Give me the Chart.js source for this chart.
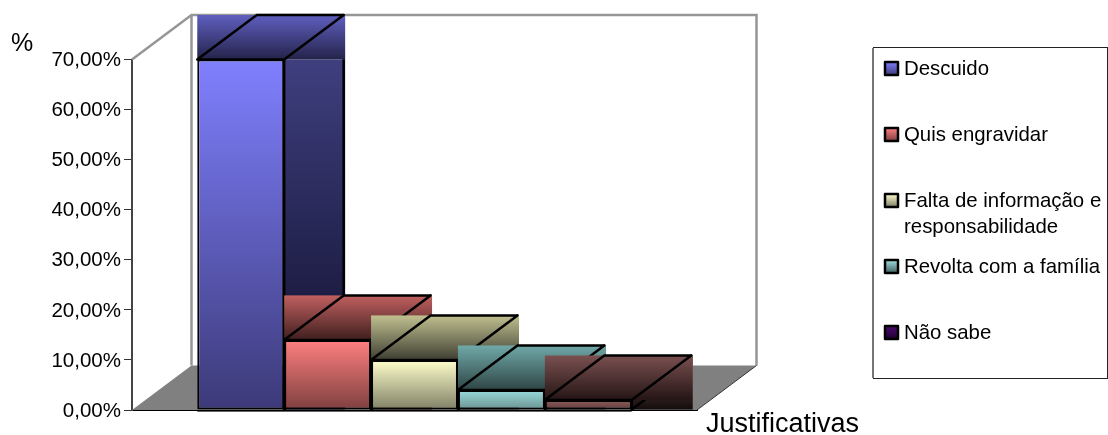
<!DOCTYPE html>
<html>
<head>
<meta charset="utf-8">
<title>Justificativas</title>
<script src="https://cdn.jsdelivr.net/npm/chart.js@4"></script>
<style>
  html, body { margin: 0; padding: 0; background: #fff; }
  canvas { display: block; }
</style>
</head>
<body>
<canvas id="myChart" width="1108" height="435"></canvas>
<script>
const seriesNames = ['Descuido', 'Quis engravidar', 'Falta de informação e responsabilidade', 'Revolta com a família', 'Não sabe'];
const seriesValues = [70, 14, 10, 4, 2];
const yTicksMax = 70;
const yTicksStep = 10;
const axisTitleY = '%';
const axisTitleX = 'Justificativas';

// legend wording is split by hand, the long entry takes two lines
const legendLines = [['Descuido'], ['Quis engravidar'], ['Falta de informação e', 'responsabilidade'], ['Revolta com a família'], ['Não sabe']];
const legendRows = [69, 135, 201, 267, 333];

// [top, bottom] of each face gradient
const frontColors = [['#8080ff', '#3c3a78'], ['#ff8080', '#7e3f3f'], ['#ffffcc', '#7f7f66'], ['#9adcdc', '#6a9090'], ['#8e5c5c', '#603c3c']];
const topColors = [['#5f5fc0', '#24234a'], ['#c06060', '#401f1f'], ['#c0c090', '#3f3f33'], ['#70a8a8', '#2f4545'], ['#7a5050', '#251515']];
const sideColors = [['#3f3f7f', '#0d0d29'], ['#7f3f3f', '#2a1010'], ['#7f7f66', '#2a2a20'], ['#507070', '#1f2a2a'], ['#2a1a1a', '#120c0c']];
const swatchColors = [['#8080ff', '#3c3a78'], ['#ff8080', '#7e3f3f'], ['#ffffcc', '#7f7f66'], ['#a0e0e0', '#456060'], ['#4c0a70', '#20002f']];

const DEPTH_X = 59.5;
const DEPTH_Y = 44.5;
const FONT = '"Liberation Sans", Arial, sans-serif';

function vGradient(ctx, y0, y1, colors) {
    const g = ctx.createLinearGradient(0, y0, 0, y1);
    g.addColorStop(0, colors[0]);
    g.addColorStop(1, colors[1]);
    return g;
}

function outline(ctx, pts) {
    ctx.beginPath();
    pts.forEach((p, i) => i ? ctx.lineTo(p[0], p[1]) : ctx.moveTo(p[0], p[1]));
    ctx.closePath();
    ctx.stroke();
}

// back walls and floor behind the bars
const roomPlugin = {
    id: 'room',
    beforeDatasetsDraw(chart) {
        const { ctx, chartArea: a } = chart;
        const backTop = a.top - DEPTH_Y;
        const backBottom = a.bottom - DEPTH_Y;
        ctx.save();
        ctx.fillStyle = '#808080';
        ctx.beginPath();
        ctx.moveTo(a.left, a.bottom);
        ctx.lineTo(a.left + DEPTH_X, backBottom);
        ctx.lineTo(a.right + DEPTH_X, backBottom);
        ctx.lineTo(a.right, a.bottom);
        ctx.closePath();
        ctx.fill();

        ctx.strokeStyle = '#969696';
        ctx.lineWidth = 2.5;
        ctx.beginPath();
        ctx.moveTo(a.left, a.top);
        ctx.lineTo(a.left + DEPTH_X, backTop);
        ctx.lineTo(a.right + DEPTH_X, backTop);
        ctx.lineTo(a.right + DEPTH_X, backBottom);
        ctx.moveTo(a.left + DEPTH_X, backTop);
        ctx.lineTo(a.left + DEPTH_X, backBottom);
        ctx.stroke();

        ctx.strokeStyle = '#333';
        ctx.lineWidth = 1;
        ctx.beginPath();
        ctx.moveTo(a.right, a.bottom);
        ctx.lineTo(a.right + DEPTH_X, backBottom);
        ctx.stroke();
        ctx.restore();

        // side and top faces go in left to right, the fronts are painted after them
        chart.data.datasets.forEach((ds, i) => {
            const bar = chart.getDatasetMeta(i).data[0];
            const l = bar.x - bar.width / 2;
            const r = bar.x + bar.width / 2;
            const t = bar.y;
            const b = bar.base;

            ctx.save();
            ctx.strokeStyle = '#000';
            ctx.lineWidth = 2.5;
            ctx.lineJoin = 'round';

            ctx.fillStyle = vGradient(ctx, t, b, sideColors[i]);
            ctx.fillRect(r, t, DEPTH_X + 1.5, b - t);
            outline(ctx, [[r, t], [r + DEPTH_X, t - DEPTH_Y], [r + DEPTH_X, b - DEPTH_Y], [r, b]]);

            ctx.fillStyle = vGradient(ctx, t - DEPTH_Y, t, topColors[i]);
            ctx.fillRect(l, t - DEPTH_Y, r - l + DEPTH_X + 1.5, DEPTH_Y);
            outline(ctx, [[l, t], [l + DEPTH_X, t - DEPTH_Y], [r + DEPTH_X, t - DEPTH_Y], [r, t]]);
            ctx.restore();
        });
    },
    afterDraw(chart) {
        const { ctx, chartArea: a } = chart;
        ctx.save();

        // faint shadow under the row of bars
        const first = chart.getDatasetMeta(0).data[0];
        const last = chart.getDatasetMeta(seriesNames.length - 1).data[0];
        ctx.fillStyle = '#666';
        ctx.fillRect(first.x - first.width / 2, a.bottom + 1, last.x + last.width / 2 - (first.x - first.width / 2), 1);

        ctx.fillStyle = '#000';
        ctx.textBaseline = 'alphabetic';
        ctx.textAlign = 'left';
        ctx.font = '25px ' + FONT;
        ctx.fillText(axisTitleY, 11, 51);
        ctx.font = '27px ' + FONT;
        ctx.fillText(axisTitleX, 706, 432);

        // legend box, its left edge is heavier
        ctx.strokeStyle = '#222';
        ctx.lineWidth = 1;
        ctx.strokeRect(873.5, 47.5, 234, 331);
        ctx.strokeStyle = '#777';
        ctx.lineWidth = 2;
        ctx.beginPath();
        ctx.moveTo(873, 48);
        ctx.lineTo(873, 378);
        ctx.stroke();

        ctx.font = '20.4px ' + FONT;
        ctx.textBaseline = 'middle';
        seriesNames.forEach((name, i) => {
            const y = legendRows[i];
            ctx.fillStyle = vGradient(ctx, y - 7, y + 6, swatchColors[i]);
            ctx.fillRect(885, y - 7, 13, 13);
            ctx.strokeStyle = '#000';
            ctx.lineWidth = 2.5;
            ctx.lineJoin = 'round';
            ctx.strokeRect(885, y - 7, 13, 13);
            ctx.fillStyle = '#000';
            legendLines[i].forEach((line, k) => ctx.fillText(line, 904, y + k * 26));
        });
        ctx.restore();
    }
};

const ctx = document.getElementById('myChart').getContext('2d');

const myChart = new Chart(ctx, {
    type: 'bar',
    data: {
        labels: [''],
        datasets: seriesNames.map((name, i) => ({
            label: name,
            data: [seriesValues[i]],
            backgroundColor: function(c) {
                const chart = c.chart;
                if (!chart.chartArea) return frontColors[i][0];
                return vGradient(chart.ctx, chart.scales.y.getPixelForValue(seriesValues[i]), chart.chartArea.bottom, frontColors[i]);
            },
            borderColor: '#000',
            borderWidth: 2,
            borderSkipped: false,
            barPercentage: 1,
            categoryPercentage: 0.769
        }))
    },
    options: {
        responsive: false,
        animation: false,
        layout: {
            padding: { top: 59.5, bottom: 0, left: 0, right: 411 }
        },
        plugins: {
            legend: { display: false },
            tooltip: { enabled: false },
            title: { display: false }
        },
        scales: {
            x: {
                grid: { display: false },
                border: { color: '#000', width: 2 },
                ticks: { display: false },
                afterFit: function(scale) { scale.height = 25; }
            },
            y: {
                min: 0,
                max: yTicksMax,
                grid: { drawOnChartArea: false, color: '#333', tickLength: 8 },
                border: { color: '#444', width: 2 },
                ticks: {
                    stepSize: yTicksStep,
                    color: '#000',
                    padding: 3,
                    labelOffset: 1,
                    font: { family: FONT, size: 20.5 },
                    callback: function(value) {
                        return value.toFixed(2).replace('.', ',') + '%';
                    }
                },
                afterFit: function(scale) { scale.width = 132; }
            }
        }
    },
    plugins: [roomPlugin]
});
</script>
</body>
</html>
